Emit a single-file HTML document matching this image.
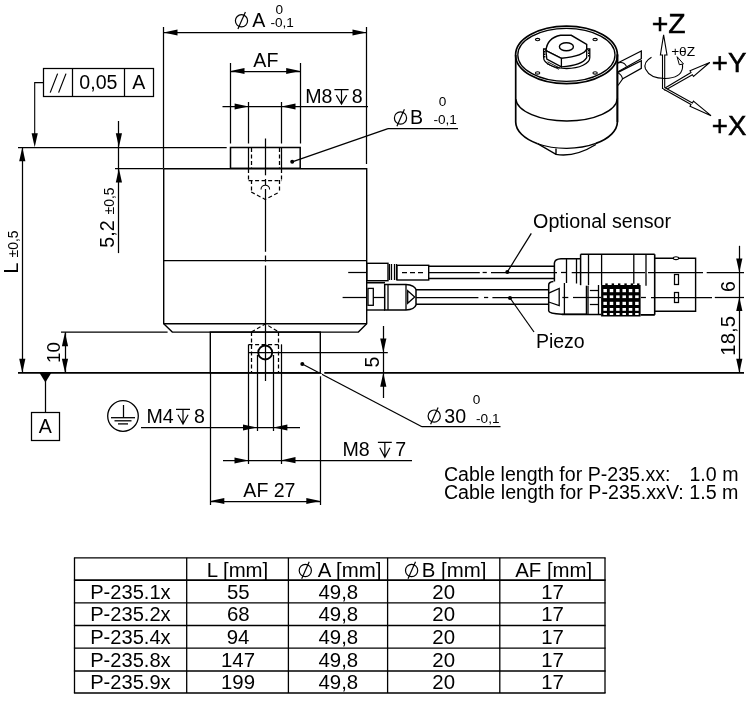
<!DOCTYPE html>
<html><head><meta charset="utf-8"><style>
html,body{margin:0;padding:0;background:#fff;width:750px;height:706px;overflow:hidden}
svg{display:block;will-change:transform}
text{font-family:"Liberation Sans",sans-serif;fill:#000;stroke:none}
</style></head><body>
<svg width="750" height="706" viewBox="0 0 750 706" stroke="#000" fill="none" stroke-linecap="butt">
<rect x="0" y="0" width="750" height="706" fill="#fff" stroke="none"/>
<line x1="163.5" y1="27" x2="163.5" y2="168" stroke-width="1.25"/>
<line x1="366.5" y1="27" x2="366.5" y2="164" stroke-width="1.25"/>
<line x1="163.6" y1="32.5" x2="366.7" y2="32.5" stroke-width="1.25"/>
<polygon points="163.5,32.5 177.50,29.40 177.50,35.60" fill="#000" stroke="none"/>
<polygon points="366.5,32.5 352.50,35.60 352.50,29.40" fill="#000" stroke="none"/>
<circle cx="241.5" cy="20.8" r="6.1" stroke-width="1.2" fill="none"/>
<line x1="237.90" y1="29.00" x2="245.40" y2="12.10" stroke-width="1.2"/>
<text x="252.16" y="27.20" font-size="19.6">A</text>
<text x="275.47" y="14.40" font-size="13.6">0</text>
<text x="270.40" y="27.20" font-size="13.6">-0,1</text>
<line x1="230.5" y1="63" x2="230.5" y2="143.5" stroke-width="1.25"/>
<line x1="300.5" y1="63" x2="300.5" y2="143.5" stroke-width="1.25"/>
<line x1="230.5" y1="71.5" x2="300.2" y2="71.5" stroke-width="1.25"/>
<polygon points="230.5,71 244.50,67.90 244.50,74.10" fill="#000" stroke="none"/>
<polygon points="300.2,71 286.20,74.10 286.20,67.90" fill="#000" stroke="none"/>
<text x="253.35" y="66.70" font-size="19.6">AF</text>
<line x1="248.5" y1="102" x2="248.5" y2="143.5" stroke-width="1.25"/>
<line x1="281.5" y1="102" x2="281.5" y2="143.5" stroke-width="1.25"/>
<line x1="222.5" y1="106.5" x2="368" y2="106.5" stroke-width="1.25"/>
<polygon points="248.6,106.5 234.60,109.60 234.60,103.40" fill="#000" stroke="none"/>
<polygon points="281.5,106.5 295.50,103.40 295.50,109.60" fill="#000" stroke="none"/>
<text x="305.19" y="102.90" font-size="19.6">M8</text>
<path d="M334.4,89.60000000000001 L348.59999999999997,89.60000000000001 M341.5,89.60000000000001 L341.5,104.0 M336.29999999999995,95.10000000000001 L341.5,104.0 L346.7,95.10000000000001" stroke-width="1.2" fill="none"/>
<text x="351.75" y="102.90" font-size="19.6">8</text>
<circle cx="292.2" cy="161.8" r="2.0" fill="#000" stroke="none"/>
<line x1="292.2" y1="161.8" x2="388" y2="128.6" stroke-width="1.25"/>
<line x1="388" y1="128.5" x2="458" y2="128.5" stroke-width="1.25"/>
<circle cx="400.5" cy="118" r="6.1" stroke-width="1.2" fill="none"/>
<line x1="396.90" y1="126.20" x2="404.40" y2="109.30" stroke-width="1.2"/>
<text x="410.09" y="123.60" font-size="19.6">B</text>
<text x="438.87" y="105.50" font-size="13.6">0</text>
<text x="433.40" y="124.00" font-size="13.6">-0,1</text>
<rect x="43.5" y="68.5" width="110.00" height="28.00" stroke-width="1.25" fill="none"/>
<line x1="72.5" y1="68.4" x2="72.5" y2="96.4" stroke-width="1.25"/>
<line x1="124.5" y1="68.4" x2="124.5" y2="96.4" stroke-width="1.25"/>
<path d="M50.2,92.6 L57.6,73.6 M58.6,92.6 L66,73.6" stroke-width="1.2" fill="none"/>
<text x="79.36" y="89.20" font-size="19.6">0,05</text>
<text x="132.36" y="89.20" font-size="19.6">A</text>
<polyline points="43.7,82.6 34.7,82.6 34.7,140" stroke-width="1.1" fill="none"/>
<polygon points="34.7,147.3 31.60,133.30 37.80,133.30" fill="#000" stroke="none"/>
<line x1="18" y1="147.5" x2="226.7" y2="147.5" stroke-width="1.25"/>
<line x1="115" y1="168.5" x2="163.6" y2="168.5" stroke-width="1.25"/>
<line x1="61" y1="332.2" x2="167.6" y2="332.2" stroke-width="1.3"/>
<line x1="18" y1="372.8" x2="320.3" y2="372.8" stroke-width="1.7"/>
<line x1="324.3" y1="372.8" x2="744" y2="372.8" stroke-width="1.7"/>
<line x1="22.5" y1="147.3" x2="22.5" y2="372.8" stroke-width="1.25"/>
<polygon points="22.3,147.3 25.40,161.30 19.20,161.30" fill="#000" stroke="none"/>
<polygon points="22.3,372.8 19.20,358.80 25.40,358.80" fill="#000" stroke="none"/>
<text x="17.80" y="273.61" font-size="19.6" transform="rotate(-90 17.80 273.61)">L</text>
<text x="17.80" y="257.44" font-size="13.9" transform="rotate(-90 17.80 257.44)">&#177;0,5</text>
<line x1="118.5" y1="121" x2="118.5" y2="253.1" stroke-width="1.25"/>
<polygon points="118.9,147.3 115.80,133.30 122.00,133.30" fill="#000" stroke="none"/>
<polygon points="118.9,168.5 122.00,182.50 115.80,182.50" fill="#000" stroke="none"/>
<text x="114.40" y="247.68" font-size="19.6" transform="rotate(-90 114.40 247.68)">5,2</text>
<text x="114.40" y="214.44" font-size="13.9" transform="rotate(-90 114.40 214.44)">&#177;0,5</text>
<line x1="65.5" y1="332.2" x2="65.5" y2="372.8" stroke-width="1.25"/>
<polygon points="65,332.2 68.10,346.20 61.90,346.20" fill="#000" stroke="none"/>
<polygon points="65,372.8 61.90,358.80 68.10,358.80" fill="#000" stroke="none"/>
<text x="60.50" y="362.93" font-size="18.8" transform="rotate(-90 60.50 362.93)">10</text>
<polygon points="39.3,372.5 51.5,372.5 45.4,382.5" stroke-width="0" fill="#000"/>
<line x1="45.5" y1="381" x2="45.5" y2="412" stroke-width="1.25"/>
<rect x="31.5" y="412.5" width="28.00" height="28.00" stroke-width="1.25" fill="none"/>
<text x="38.76" y="433.20" font-size="19.6">A</text>
<polyline points="163.7,168.8 366.7,168.8 366.7,323.8 358.4,332.1 172.3,332.1 163.7,323.8 163.7,168.8" stroke-width="1.4" fill="none"/>
<line x1="163.7" y1="323.8" x2="366.7" y2="323.8" stroke-width="1.4"/>
<line x1="163.7" y1="260.6" x2="366.7" y2="260.6" stroke-width="1.4"/>
<rect x="230.5" y="147.5" width="69.70" height="20.80" stroke-width="1.5" fill="none"/>
<line x1="248.5" y1="147.5" x2="248.5" y2="168.3" stroke-width="1.25"/>
<line x1="281.5" y1="147.5" x2="281.5" y2="168.3" stroke-width="1.25"/>
<line x1="251.5" y1="148" x2="251.5" y2="168" stroke-width="1.25" stroke-dasharray="4 2.5"/>
<line x1="279.5" y1="148" x2="279.5" y2="168" stroke-width="1.25" stroke-dasharray="4 2.5"/>
<line x1="248.5" y1="169" x2="248.5" y2="180" stroke-width="1.25" stroke-dasharray="4 2.5"/>
<line x1="281.5" y1="169" x2="281.5" y2="180" stroke-width="1.25" stroke-dasharray="4 2.5"/>
<line x1="248.6" y1="180.5" x2="281.5" y2="180.5" stroke-width="1.25" stroke-dasharray="4 2.5"/>
<line x1="251.5" y1="180" x2="251.5" y2="192" stroke-width="1.25" stroke-dasharray="4 2.5"/>
<line x1="279.5" y1="180" x2="279.5" y2="192" stroke-width="1.25" stroke-dasharray="4 2.5"/>
<polyline points="251.2,192 265.3,199.5 279.5,192" stroke-width="1.15" stroke-dasharray="4 2.5" fill="none"/>
<path d="M261,189.5 A4.3,4.3 0 0 1 269.6,189.5" stroke-width="1.1" fill="none"/>
<line x1="265.5" y1="138.5" x2="265.5" y2="175.3" stroke-width="1.25"/>
<line x1="265.5" y1="179" x2="265.5" y2="185" stroke-width="1.25"/>
<line x1="265.5" y1="189" x2="265.5" y2="251.8" stroke-width="1.25"/>
<line x1="265.5" y1="255.5" x2="265.5" y2="261.5" stroke-width="1.25"/>
<line x1="265.5" y1="265.5" x2="265.5" y2="318" stroke-width="1.25"/>
<rect x="210.3" y="332.1" width="110.00" height="40.70" stroke-width="1.4" fill="none"/>
<line x1="248.6" y1="352.5" x2="387.8" y2="352.5" stroke-width="1.25"/>
<polyline points="251.4,332 265.4,323.9 278.7,332" stroke-width="1.15" stroke-dasharray="4 2.5" fill="none"/>
<line x1="251.5" y1="332" x2="251.5" y2="372" stroke-width="1.25" stroke-dasharray="4 2.5"/>
<line x1="278.5" y1="332" x2="278.5" y2="372" stroke-width="1.25" stroke-dasharray="4 2.5"/>
<line x1="248.6" y1="344.5" x2="281.5" y2="344.5" stroke-width="1.25" stroke-dasharray="4 2.5"/>
<line x1="248.5" y1="344.5" x2="248.5" y2="464" stroke-width="1.25"/>
<line x1="281.5" y1="344.5" x2="281.5" y2="464" stroke-width="1.25"/>
<circle cx="265.2" cy="352.5" r="7" stroke-width="1.9" fill="none"/>
<line x1="265.5" y1="318" x2="265.5" y2="381" stroke-width="1.25"/>
<line x1="257.5" y1="355" x2="257.5" y2="431" stroke-width="1.25"/>
<line x1="273.5" y1="355" x2="273.5" y2="431" stroke-width="1.25"/>
<line x1="383.5" y1="326" x2="383.5" y2="398" stroke-width="1.25"/>
<polygon points="383.3,352.4 380.20,338.40 386.40,338.40" fill="#000" stroke="none"/>
<polygon points="383.3,372.8 386.40,386.80 380.20,386.80" fill="#000" stroke="none"/>
<text x="379.00" y="367.38" font-size="19.6" transform="rotate(-90 379.00 367.38)">5</text>
<circle cx="302.3" cy="364" r="2.0" fill="#000" stroke="none"/>
<line x1="302.3" y1="364" x2="422" y2="426.8" stroke-width="1.25"/>
<line x1="422" y1="426.5" x2="500.5" y2="426.5" stroke-width="1.25"/>
<circle cx="434.2" cy="416.1" r="6.1" stroke-width="1.2" fill="none"/>
<line x1="430.60" y1="424.30" x2="438.10" y2="407.40" stroke-width="1.2"/>
<text x="444.25" y="422.90" font-size="19.6">30</text>
<text x="472.77" y="403.80" font-size="13.6">0</text>
<text x="476.10" y="422.90" font-size="13.6">-0,1</text>
<circle cx="123" cy="416" r="15.3" stroke-width="1.3" fill="none"/>
<line x1="123.5" y1="405" x2="123.5" y2="417.7" stroke-width="1.25"/>
<line x1="111" y1="417.7" x2="135" y2="417.7" stroke-width="1.3"/>
<line x1="114.5" y1="420.8" x2="131.5" y2="420.8" stroke-width="1.3"/>
<line x1="118" y1="423.9" x2="128" y2="423.9" stroke-width="1.3"/>
<text x="146.39" y="423.10" font-size="19.6">M4</text>
<path d="M176,409.3 L190,409.3 M183.0,409.3 L183.0,424.0 M177.9,414.8 L183.0,424.0 L188.1,414.8" stroke-width="1.2" fill="none"/>
<text x="193.95" y="423.10" font-size="19.6">8</text>
<line x1="141" y1="427.5" x2="300" y2="427.5" stroke-width="1.25"/>
<polygon points="257,427.5 243.00,430.60 243.00,424.40" fill="#000" stroke="none"/>
<polygon points="273.4,427.5 287.40,424.40 287.40,430.60" fill="#000" stroke="none"/>
<line x1="223" y1="460.5" x2="412" y2="460.5" stroke-width="1.25"/>
<polygon points="248.5,460.5 234.50,463.60 234.50,457.40" fill="#000" stroke="none"/>
<polygon points="281.5,460.2 295.50,457.10 295.50,463.30" fill="#000" stroke="none"/>
<text x="342.39" y="456.00" font-size="19.6">M8</text>
<path d="M377.9,442.29999999999995 L391.79999999999995,442.29999999999995 M384.84999999999997,442.29999999999995 L384.84999999999997,457.2 M379.79999999999995,447.79999999999995 L384.84999999999997,457.2 L389.9,447.79999999999995" stroke-width="1.2" fill="none"/>
<text x="395.29" y="456.00" font-size="19.6">7</text>
<line x1="210.5" y1="372.8" x2="210.5" y2="505" stroke-width="1.25"/>
<line x1="320.5" y1="372.8" x2="320.5" y2="505" stroke-width="1.25"/>
<line x1="210.3" y1="501.5" x2="320.3" y2="501.5" stroke-width="1.25"/>
<polygon points="210.3,501 224.30,497.90 224.30,504.10" fill="#000" stroke="none"/>
<polygon points="320.3,501 306.30,504.10 306.30,497.90" fill="#000" stroke="none"/>
<rect x="319" y="373.9" width="3" height="2.4" fill="#fff" stroke="none"/>
<text x="243.36" y="496.90" font-size="19.6" textLength="52.12" lengthAdjust="spacingAndGlyphs">AF 27</text>
<text x="443.90" y="481.30" font-size="19.6">Cable length for P-235.xx:</text>
<text x="689.47" y="481.30" font-size="19.6">1.0 m</text>
<text x="443.90" y="499.20" font-size="19.6" textLength="294.59" lengthAdjust="spacingAndGlyphs">Cable length for P-235.xxV: 1.5 m</text>
<line x1="348.2" y1="272.5" x2="367" y2="272.5" stroke-width="1.25"/>
<line x1="428.7" y1="272.5" x2="479.8" y2="272.5" stroke-width="1.25"/>
<line x1="482.6" y1="272.5" x2="486.8" y2="272.5" stroke-width="1.25"/>
<line x1="491" y1="272.5" x2="557" y2="272.5" stroke-width="1.25"/>
<line x1="561" y1="272.5" x2="566.3" y2="272.5" stroke-width="1.25"/>
<line x1="571.7" y1="272.5" x2="645.1" y2="272.5" stroke-width="1.25"/>
<line x1="648" y1="272.5" x2="703" y2="272.5" stroke-width="1.25"/>
<line x1="706.7" y1="272.5" x2="744" y2="272.5" stroke-width="1.25"/>
<line x1="373.3" y1="297.5" x2="384.7" y2="297.5" stroke-width="1.25"/>
<line x1="416" y1="297.5" x2="478.4" y2="297.5" stroke-width="1.25"/>
<line x1="484" y1="297.5" x2="488.2" y2="297.5" stroke-width="1.25"/>
<line x1="492.4" y1="297.5" x2="548.7" y2="297.5" stroke-width="1.25"/>
<line x1="562.3" y1="297.5" x2="568.3" y2="297.5" stroke-width="1.25"/>
<line x1="573" y1="297.5" x2="601" y2="297.5" stroke-width="1.25"/>
<line x1="641" y1="297.5" x2="645.9" y2="297.5" stroke-width="1.25"/>
<line x1="651" y1="297.5" x2="712" y2="297.5" stroke-width="1.25"/>
<line x1="714.8" y1="297.5" x2="744" y2="297.5" stroke-width="1.25"/>
<rect x="367" y="263.3" width="21.00" height="17.40" stroke-width="1.4" fill="#fff"/>
<line x1="389.5" y1="264" x2="389.5" y2="280" stroke-width="1.25"/>
<line x1="391.5" y1="264" x2="391.5" y2="280" stroke-width="1.25"/>
<line x1="394.5" y1="264" x2="394.5" y2="280" stroke-width="1.25"/>
<line x1="396.5" y1="264" x2="396.5" y2="280" stroke-width="1.25"/>
<rect x="397" y="265.3" width="31.70" height="14.70" stroke-width="1.4" fill="#fff"/>
<line x1="402" y1="272.5" x2="426" y2="272.5" stroke-width="1.25" stroke-dasharray="5 3"/>
<line x1="428.7" y1="266.3" x2="554.4" y2="266.3" stroke-width="1.4"/>
<line x1="428.7" y1="278.5" x2="554.4" y2="278.5" stroke-width="1.4"/>
<line x1="342.6" y1="297.5" x2="367" y2="297.5" stroke-width="1.25"/>
<polyline points="367,282.7 385,282.7" stroke-width="1.6" fill="none"/>
<polyline points="367,310 385,310" stroke-width="1.4" fill="none"/>
<rect x="368" y="288.4" width="5.30" height="16.90" stroke-width="1.3" fill="none"/>
<path d="M384.7,284.4 L406,284.4 Q414.5,285 416,289.5 L416,305 Q414.5,309.5 406,310 L384.7,310 Z" stroke-width="1.5" fill="#fff"/>
<line x1="388" y1="284.4" x2="388" y2="310" stroke-width="1.3"/>
<line x1="406" y1="284.4" x2="406" y2="310" stroke-width="1.3"/>
<polygon points="407.7,290.7 414.7,297 407.7,303.3" stroke-width="1.3" fill="none"/>
<line x1="416" y1="289.7" x2="548.7" y2="289.7" stroke-width="1.4"/>
<line x1="416" y1="304.3" x2="548.7" y2="304.3" stroke-width="1.4"/>
<circle cx="507.3" cy="272" r="2.0" fill="#000" stroke="none"/>
<line x1="507.3" y1="272" x2="531.3" y2="233.3" stroke-width="1.25"/>
<text x="533.07" y="228.00" font-size="19.6" textLength="138.06" lengthAdjust="spacingAndGlyphs">Optional sensor</text>
<circle cx="510" cy="298" r="2.0" fill="#000" stroke="none"/>
<line x1="510" y1="298" x2="534" y2="332" stroke-width="1.25"/>
<text x="535.90" y="347.50" font-size="19.6" textLength="48.82" lengthAdjust="spacingAndGlyphs">Piezo</text>
<path d="M554.4,281.5 L554.4,263 Q555,259 561,258.8 L580.6,258.8" stroke-width="1.5" fill="none"/>
<line x1="566.5" y1="258.8" x2="566.5" y2="283" stroke-width="1.3"/>
<line x1="576.5" y1="258.8" x2="576.5" y2="283.5" stroke-width="1.3"/>
<line x1="580.6" y1="254.3" x2="580.6" y2="285.2" stroke-width="1.5"/>
<line x1="580.6" y1="254.3" x2="654.7" y2="254.3" stroke-width="1.6"/>
<line x1="588.5" y1="254.3" x2="588.5" y2="285.2" stroke-width="1.3"/>
<line x1="601.6" y1="254.3" x2="601.6" y2="285" stroke-width="1.3"/>
<line x1="633.8" y1="254.3" x2="633.8" y2="283.7" stroke-width="1.3"/>
<line x1="646" y1="254.3" x2="646" y2="285.7" stroke-width="1.3"/>
<line x1="654.7" y1="254.3" x2="654.7" y2="314.8" stroke-width="1.6"/>
<path d="M553.4,281.5 Q548.7,282 548.7,285 L548.7,310.9 Q549,313.5 561.8,314.3 L586.4,314.3" stroke-width="1.5" fill="none"/>
<polyline points="548.7,293.1 559.2,288.4 559.2,305.5 548.7,302" stroke-width="1.3" fill="none"/>
<line x1="564.4" y1="283" x2="564.4" y2="314.3" stroke-width="1.3"/>
<line x1="586.4" y1="285.7" x2="586.4" y2="314.3" stroke-width="1.3"/>
<line x1="588" y1="285.7" x2="588" y2="314.3" stroke-width="1.3"/>
<line x1="589.9" y1="290.5" x2="598.5" y2="290.5" stroke-width="1.25"/>
<line x1="589.9" y1="304.5" x2="598.5" y2="304.5" stroke-width="1.25"/>
<line x1="598.5" y1="285" x2="598.5" y2="314.3" stroke-width="1.3"/>
<line x1="641" y1="314.8" x2="654.7" y2="314.8" stroke-width="1.5"/>
<rect x="601.1" y="285" width="39.5" height="31.5" fill="#000" stroke="none"/>
<rect x="603.40" y="289.0" width="3.5" height="3.2" fill="#fff" stroke="none"/>
<rect x="603.40" y="295.4" width="3.5" height="2.7" fill="#fff" stroke="none"/>
<rect x="603.40" y="301.8" width="3.5" height="3.2" fill="#fff" stroke="none"/>
<rect x="603.40" y="308.0" width="3.5" height="2.8" fill="#fff" stroke="none"/>
<rect x="603.40" y="313.0" width="3.5" height="2.0" fill="#fff" stroke="none"/>
<rect x="609.75" y="289.0" width="3.5" height="3.2" fill="#fff" stroke="none"/>
<rect x="609.75" y="295.4" width="3.5" height="2.7" fill="#fff" stroke="none"/>
<rect x="609.75" y="301.8" width="3.5" height="3.2" fill="#fff" stroke="none"/>
<rect x="609.75" y="308.0" width="3.5" height="2.8" fill="#fff" stroke="none"/>
<rect x="609.75" y="313.0" width="3.5" height="2.0" fill="#fff" stroke="none"/>
<rect x="616.10" y="289.0" width="3.5" height="3.2" fill="#fff" stroke="none"/>
<rect x="616.10" y="295.4" width="3.5" height="2.7" fill="#fff" stroke="none"/>
<rect x="616.10" y="301.8" width="3.5" height="3.2" fill="#fff" stroke="none"/>
<rect x="616.10" y="308.0" width="3.5" height="2.8" fill="#fff" stroke="none"/>
<rect x="616.10" y="313.0" width="3.5" height="2.0" fill="#fff" stroke="none"/>
<rect x="622.45" y="289.0" width="3.5" height="3.2" fill="#fff" stroke="none"/>
<rect x="622.45" y="295.4" width="3.5" height="2.7" fill="#fff" stroke="none"/>
<rect x="622.45" y="301.8" width="3.5" height="3.2" fill="#fff" stroke="none"/>
<rect x="622.45" y="308.0" width="3.5" height="2.8" fill="#fff" stroke="none"/>
<rect x="622.45" y="313.0" width="3.5" height="2.0" fill="#fff" stroke="none"/>
<rect x="628.80" y="289.0" width="3.5" height="3.2" fill="#fff" stroke="none"/>
<rect x="628.80" y="295.4" width="3.5" height="2.7" fill="#fff" stroke="none"/>
<rect x="628.80" y="301.8" width="3.5" height="3.2" fill="#fff" stroke="none"/>
<rect x="628.80" y="308.0" width="3.5" height="2.8" fill="#fff" stroke="none"/>
<rect x="628.80" y="313.0" width="3.5" height="2.0" fill="#fff" stroke="none"/>
<rect x="635.15" y="289.0" width="3.5" height="3.2" fill="#fff" stroke="none"/>
<rect x="635.15" y="295.4" width="3.5" height="2.7" fill="#fff" stroke="none"/>
<rect x="635.15" y="301.8" width="3.5" height="3.2" fill="#fff" stroke="none"/>
<rect x="635.15" y="308.0" width="3.5" height="2.8" fill="#fff" stroke="none"/>
<rect x="635.15" y="313.0" width="3.5" height="2.0" fill="#fff" stroke="none"/>
<rect x="605.30" y="283.4" width="2.4" height="2" fill="#000" stroke="none"/>
<rect x="611.65" y="283.4" width="2.4" height="2" fill="#000" stroke="none"/>
<rect x="618.00" y="283.4" width="2.4" height="2" fill="#000" stroke="none"/>
<rect x="624.35" y="283.4" width="2.4" height="2" fill="#000" stroke="none"/>
<rect x="630.70" y="283.4" width="2.4" height="2" fill="#000" stroke="none"/>
<rect x="637.05" y="283.4" width="2.4" height="2" fill="#000" stroke="none"/>
<line x1="561.8" y1="314.5" x2="601.1" y2="314.5" stroke-width="1.5"/>
<line x1="640.6" y1="314.8" x2="654.7" y2="314.8" stroke-width="1.5"/>
<polyline points="654.7,258.2 695.6,258.2 695.6,311.2 654.7,311.2" stroke-width="1.4" fill="none"/>
<ellipse cx="676" cy="258.2" rx="2.6" ry="1.4" stroke-width="1.1" fill="#fff"/>
<rect x="674.5" y="274.5" width="4.00" height="10.00" stroke-width="1.25" fill="none"/>
<rect x="674.5" y="292.5" width="4.00" height="10.00" stroke-width="1.25" fill="none"/>
<line x1="739.5" y1="245.8" x2="739.5" y2="372.8" stroke-width="1.25"/>
<polygon points="739.3,272.4 736.20,258.40 742.40,258.40" fill="#000" stroke="none"/>
<polygon points="739.3,297.1 742.40,311.10 736.20,311.10" fill="#000" stroke="none"/>
<polygon points="739.3,372.8 736.20,358.80 742.40,358.80" fill="#000" stroke="none"/>
<text x="734.80" y="292.00" font-size="19.6" transform="rotate(-90 734.80 292.00)">6</text>
<text x="734.80" y="355.65" font-size="20.4" transform="rotate(-90 734.80 355.65)">18,5</text>
<line x1="73.9" y1="557.8" x2="605.6" y2="557.8" stroke-width="1.3"/>
<line x1="73.9" y1="580.1" x2="605.6" y2="580.1" stroke-width="1.6"/>
<line x1="73.9" y1="602.8" x2="605.6" y2="602.8" stroke-width="1.3"/>
<line x1="73.9" y1="625.5" x2="605.6" y2="625.5" stroke-width="1.3"/>
<line x1="73.9" y1="648.2" x2="605.6" y2="648.2" stroke-width="1.3"/>
<line x1="73.9" y1="671" x2="605.6" y2="671" stroke-width="1.3"/>
<line x1="73.9" y1="693" x2="605.6" y2="693" stroke-width="1.3"/>
<line x1="74.5" y1="557.8" x2="74.5" y2="693" stroke-width="1.3"/>
<line x1="186.7" y1="557.8" x2="186.7" y2="693" stroke-width="1.3"/>
<line x1="288.4" y1="557.8" x2="288.4" y2="693" stroke-width="1.3"/>
<line x1="387.6" y1="557.8" x2="387.6" y2="693" stroke-width="1.3"/>
<line x1="499.8" y1="557.8" x2="499.8" y2="693" stroke-width="1.3"/>
<line x1="605" y1="557.8" x2="605" y2="693" stroke-width="1.3"/>
<text x="206.72" y="577.00" font-size="20.4">L [mm]</text>
<circle cx="305.3" cy="570.5" r="6.1" stroke-width="1.2" fill="none"/>
<line x1="301.70" y1="578.70" x2="309.20" y2="561.80" stroke-width="1.2"/>
<text x="317.86" y="577.00" font-size="20.4">A [mm]</text>
<circle cx="411.6" cy="570.5" r="6.1" stroke-width="1.2" fill="none"/>
<line x1="408.00" y1="578.70" x2="415.50" y2="561.80" stroke-width="1.2"/>
<text x="421.83" y="577.00" font-size="20.4">B [mm]</text>
<text x="515.18" y="577.00" font-size="20.4">AF [mm]</text>
<text x="90.21" y="598.60" font-size="20.1">P-235.1x</text>
<text x="226.97" y="598.60" font-size="20.4">55</text>
<text x="318.46" y="598.60" font-size="20.4">49,8</text>
<text x="432.34" y="598.60" font-size="20.4">20</text>
<text x="541.29" y="598.60" font-size="20.4">17</text>
<text x="90.21" y="621.30" font-size="20.1">P-235.2x</text>
<text x="226.88" y="621.30" font-size="20.4">68</text>
<text x="318.46" y="621.30" font-size="20.4">49,8</text>
<text x="432.34" y="621.30" font-size="20.4">20</text>
<text x="541.29" y="621.30" font-size="20.4">17</text>
<text x="90.21" y="644.00" font-size="20.1">P-235.4x</text>
<text x="226.78" y="644.00" font-size="20.4">94</text>
<text x="318.46" y="644.00" font-size="20.4">49,8</text>
<text x="432.34" y="644.00" font-size="20.4">20</text>
<text x="541.29" y="644.00" font-size="20.4">17</text>
<text x="90.21" y="666.70" font-size="20.1">P-235.8x</text>
<text x="221.02" y="666.70" font-size="20.4">147</text>
<text x="318.46" y="666.70" font-size="20.4">49,8</text>
<text x="432.34" y="666.70" font-size="20.4">20</text>
<text x="541.29" y="666.70" font-size="20.4">17</text>
<text x="90.21" y="689.40" font-size="20.1">P-235.9x</text>
<text x="220.99" y="689.40" font-size="20.4">199</text>
<text x="318.46" y="689.40" font-size="20.4">49,8</text>
<text x="432.34" y="689.40" font-size="20.4">20</text>
<text x="541.29" y="689.40" font-size="20.4">17</text>
<g stroke-width="1.3" fill="none">
<ellipse cx="566.5" cy="54.9" rx="50.9" ry="28.8" stroke-width="1.7"/>
<ellipse cx="566.4" cy="54.9" rx="48.6" ry="26.5" stroke-width="1.3"/>
<path d="M515.7,54.9 L515.7,122 A50.9,26.5 0 0 0 537.6,143.7 M595.9,143.4 A50.9,26.5 0 0 0 617.4,122 L617.4,54.9" stroke-width="1.7"/>
<path d="M515.7,99 A50.9,23.2 0 0 0 617.4,98.5" stroke-width="1.5"/>
<path d="M537.6,143.7 A50.9,26.5 0 0 0 595.9,143.4" stroke-width="1.2"/>
<path d="M537.6,143.7 L556,154.4 Q575,157.5 595.9,144.5 M556,148.5 L556,155" stroke-width="1.4"/>
<path d="M543.6,49 L543.6,57.5 A23.1,11 0 0 0 589.8,57.5 L589.8,49 Z" stroke-width="1.3" fill="#fff"/>
<path d="M544.6,51 L544.6,58 M588.8,50 L588.8,57" stroke-width="1.6" stroke-dasharray="1.5 1"/>
<path d="M546,50.7 Q547,38 560.6,35.3 L571.3,35.3 L586.7,44.5 L586.7,49 Q584,56 561.4,58.3 Z" stroke-width="1.4" fill="#fff"/>
<path d="M546,50.7 L546.8,59 L561.4,66.8 L561.4,58.3 Z" stroke-width="1.3" fill="#fff"/>
<path d="M561.4,66.8 Q582,65.5 586.7,57.6 L586.7,49" stroke-width="1.3"/>
<path d="M547.5,61.8 L560,68.2 M547,63.8 L559,69.3" stroke-width="0.9"/>
<ellipse cx="566.4" cy="46.8" rx="7" ry="4" stroke-width="1.4"/>
<ellipse cx="537.6" cy="39.6" rx="2.2" ry="1.2" stroke-width="1.1"/>
<ellipse cx="595.1" cy="39.6" rx="2.2" ry="1.2" stroke-width="1.1"/>
<ellipse cx="537.6" cy="72.9" rx="2.2" ry="1.2" stroke-width="1.1"/>
<ellipse cx="595.1" cy="72.9" rx="2.2" ry="1.2" stroke-width="1.1"/>
<path d="M617.7,63 L641.3,51 L641.3,58.7 L618,71.7" stroke-width="1.3" fill="#fff"/>
<path d="M618,72.3 L641.3,60.7 L641.3,68.3 L622.3,79" stroke-width="1.3" fill="#fff"/>
<path d="M617.7,63 Q624,61 626.5,66.5 M618.2,73 Q622,75 622.5,79 L618,85.5" stroke-width="1.1"/>
<line x1="617.4" y1="54" x2="617.4" y2="122" stroke-width="1.7"/>
</g>
<g stroke-width="1.1" fill="#fff">
<path d="M662.5,89 L662.5,55 L660.4,55 L663.6,34.8 L667,55 L664.7,55 L664.7,88" />
<path d="M663.4,89 L691,72.5 L690,70.8 L709.7,62.5 L693.5,76.5 L692.4,74.7 L664.6,90.5" />
<path d="M663.4,89 L691,104.5 L690,106.3 L711,115.7 L693.4,101.2 L692.4,103 L664.6,87.5" />
</g>
<path d="M651.5,57.2 Q643,62 645.5,69 Q650,78.5 665,78.5 Q681,78 682.5,68 Q683,64 681,62" stroke-width="1.1" fill="none"/>
<path d="M677.1,56.7 L679.3,64.7 L683.5,64 Z" stroke-width="1" fill="#fff"/>
<text x="651.82" y="32.50" font-size="27.4" textLength="33.87" lengthAdjust="spacingAndGlyphs" style="stroke:#000;stroke-width:0.5px">+Z</text>
<text x="711.85" y="72.30" font-size="27.4" textLength="34.56" lengthAdjust="spacingAndGlyphs" style="stroke:#000;stroke-width:0.5px">+Y</text>
<text x="711.85" y="135.40" font-size="27.4" textLength="34.53" lengthAdjust="spacingAndGlyphs" style="stroke:#000;stroke-width:0.5px">+X</text>
<text x="671.13" y="56.10" font-size="13.7">+&#952;Z</text>
</svg>
</body></html>
